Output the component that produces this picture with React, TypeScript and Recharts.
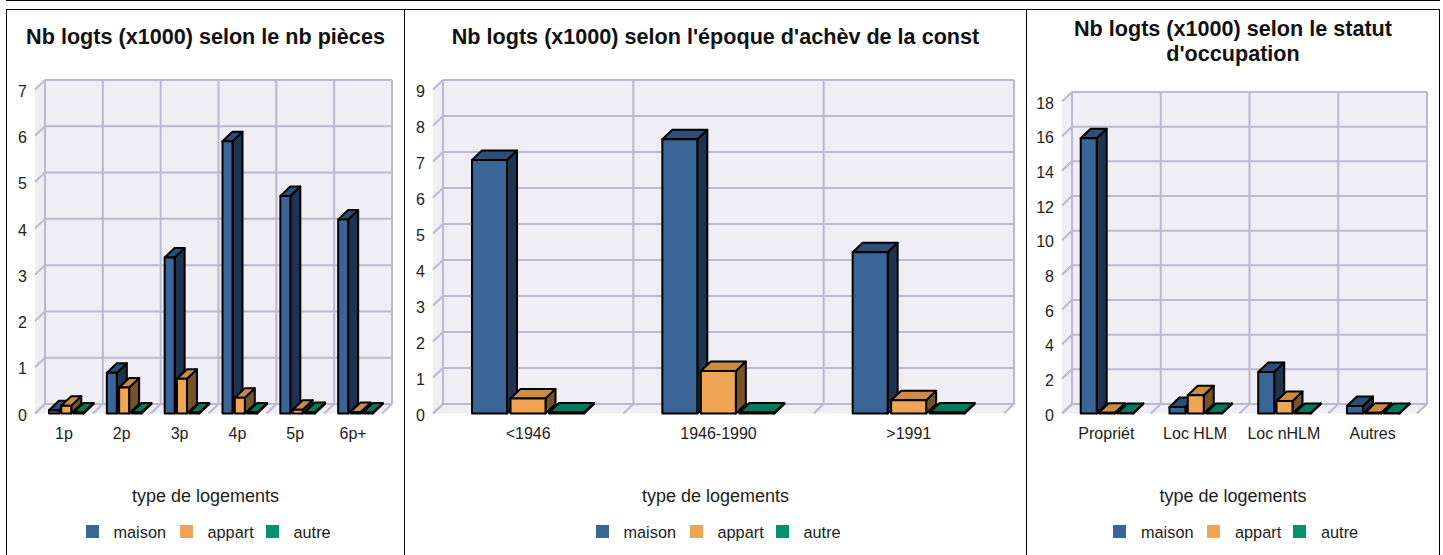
import React from 'react';
import { BarChart, Bar, XAxis, YAxis, CartesianGrid, Legend } from 'recharts';

const roomCategories = ['1p', '2p', '3p', '4p', '5p', '6p+'];
const roomMaison = [0.07, 0.88, 3.37, 5.88, 4.7, 4.19];
const roomAppart = [0.17, 0.56, 0.75, 0.34, 0.08, 0.03];
const roomAutre = [0.02, 0.02, 0.02, 0.02, 0.03, 0.02];
const roomTicks = [0, 1, 2, 3, 4, 5, 6, 7];

const eraCategories = ['<1946', '1946-1990', '>1991'];
const eraMaison = [7.04, 7.62, 4.48];
const eraAppart = [0.42, 1.18, 0.37];
const eraAutre = [0.03, 0.03, 0.03];
const eraTicks = [0, 1, 2, 3, 4, 5, 6, 7, 8, 9];

const statusCategories = ['Propriét', 'Loc HLM', 'Loc nHLM', 'Autres'];
const statusMaison = [15.88, 0.38, 2.39, 0.43];
const statusAppart = [0.05, 1.05, 0.72, 0.05];
const statusAutre = [0.03, 0.03, 0.03, 0.03];
const statusTicks = [0, 2, 4, 6, 8, 10, 12, 14, 16, 18];

const DX = 10;
const DY = 9.5;
const GRID = '#BAB8D3';
const WALL = '#EFEEF4';
const FONT = '"Liberation Sans", Arial, sans-serif';

const maisonFaces = { front: '#3A6597', top: '#2C4E77', side: '#1E3350' };
const appartFaces = { front: '#F0A555', top: '#CC8B45', side: '#76522A' };
const autreFaces = { front: '#00936F', top: '#007A5B', side: '#004A37' };

function box(faces: { front: string; top: string; side: string }, shift: number) {
  return (p: any) => {
    const { y, width, height } = p;
    const x = p.x + shift;
    const r = x + width;
    const b = y + height;
    const common = { stroke: '#000', strokeWidth: 2, strokeLinejoin: 'round' as const };
    return (
      <g>
        <polygon points={`${r},${b} ${r + DX},${b - DY} ${r + DX},${y - DY} ${r},${y}`} fill={faces.side} {...common} />
        <polygon points={`${x},${y} ${x + DX},${y - DY} ${r + DX},${y - DY} ${r},${y}`} fill={faces.top} {...common} />
        <rect x={x} y={y} width={width} height={height} fill={faces.front} {...common} />
      </g>
    );
  };
}

function gridH(p: any) {
  const { x1, x2, y1, index, x, y, width, height } = p;
  const b = y + height;
  const r = x + width;
  return (
    <g key={p.key ?? `h${y1}`}>
      {index === 0 && (
        <polygon
          points={`${x},${b} ${x},${y} ${x + DX},${y - DY} ${r + DX},${y - DY} ${r + DX},${b - DY} ${r},${b}`}
          fill={WALL}
        />
      )}
      <line x1={x1} y1={y1} x2={x1 + DX} y2={y1 - DY} stroke={GRID} strokeWidth={2} />
      <line x1={x1 + DX} y1={y1 - DY} x2={x2 + DX} y2={y1 - DY} stroke={GRID} strokeWidth={2} />
    </g>
  );
}

function gridV(p: any) {
  const { x1, y1, y2 } = p;
  return (
    <g key={p.key ?? `v${x1}`}>
      <line x1={x1} y1={y2} x2={x1 + DX} y2={y2 - DY} stroke={GRID} strokeWidth={2} />
      <line x1={x1 + DX} y1={y1 - DY} x2={x1 + DX} y2={y2 - DY} stroke={GRID} strokeWidth={2} />
    </g>
  );
}

function LegendBox(props: any) {
  const widths = [94, 86, 72];
  return (
    <div style={{ fontFamily: FONT, color: '#1c1c1c', width: props.w, position: 'relative', height: 60 }}>
      <div style={{ textAlign: 'center', fontSize: 18, lineHeight: '20px', position: 'absolute', left: 0, right: 0, top: 0 }}>
        type de logements
      </div>
      <div style={{ position: 'absolute', top: 35, left: props.w / 2 - 120, display: 'flex' }}>
        {(props.payload || []).map((e: any, i: number) => (
          <div key={e.value} style={{ width: widths[i], display: 'flex', alignItems: 'center', height: 20, flex: 'none' }}>
            <span style={{ width: 13, height: 13, background: e.color, display: 'inline-block', marginRight: 15, flex: 'none' }} />
            <span style={{ fontSize: 16.3, whiteSpace: 'nowrap', position: 'relative', top: 1 }}>{e.value}</span>
          </div>
        ))}
      </div>
    </div>
  );
}

type PanelProps = {
  left: number; width: number; plotLeft: number; plotRight: number; plotTop: number;
  barSize: number; barGap: number; shift: number; title: string[]; titleTop: number;
  cats: string[]; maison: number[]; appart: number[]; autre: number[]; ticks: number[];
};

function Panel(c: PanelProps) {
  const data = c.cats.map((name, i) => ({ name, maison: c.maison[i], appart: c.appart[i], autre: c.autre[i] }));
  const H = 555;
  const plotBottom = 413.5;
  const max = c.ticks[c.ticks.length - 1];
  return (
    <div style={{ position: 'absolute', left: c.left, top: 0, width: c.width, height: H }}>
      <div style={{ position: 'absolute', left: 0, width: c.width, top: c.titleTop, textAlign: 'center', fontFamily: FONT, fontWeight: 700, fontSize: 21.6, lineHeight: '25px', color: '#111', whiteSpace: 'nowrap' }}>
        {c.title.map((t) => <div key={t}>{t}</div>)}
      </div>
      <BarChart
        width={c.width}
        height={H}
        data={data}
        barSize={c.barSize}
        barGap={c.barGap}
        margin={{ left: 0, right: c.width - c.plotRight, top: c.plotTop, bottom: 0 }}
        style={{ position: 'absolute', left: 0, top: 0 }}
      >
        <CartesianGrid
          horizontal={gridH}
          vertical={gridV}
          verticalCoordinatesGenerator={({ offset }: any) =>
            Array.from({ length: c.cats.length + 1 }, (_, i) => offset.left + (i * offset.width) / c.cats.length)
          }
        />
        <XAxis
          dataKey="name"
          height={H - plotBottom}
          axisLine={false}
          tickLine={false}
          tickSize={0}
          tickMargin={14}
          interval={0}
          tick={{ fontSize: 16, fontFamily: FONT, fill: '#222' }}
        />
        <YAxis
          width={c.plotLeft}
          domain={[0, max]}
          ticks={c.ticks}
          interval={0}
          axisLine={false}
          tickLine={false}
          tickSize={0}
          tickMargin={8}
          tick={{ fontSize: 16, fontFamily: FONT, fill: '#222', dy: 1.5 }}
        />
        <Bar dataKey="maison" name="maison" fill={maisonFaces.front} shape={box(maisonFaces, c.shift)} isAnimationActive={false} />
        <Bar dataKey="appart" name="appart" fill={appartFaces.front} shape={box(appartFaces, c.shift)} isAnimationActive={false} />
        <Bar dataKey="autre" name="autre" fill={autreFaces.front} shape={box(autreFaces, c.shift)} isAnimationActive={false} />
        <Legend
          layout="horizontal"
          verticalAlign="middle"
          itemSorter={null as any}
          wrapperStyle={{ position: 'absolute', left: 0, top: 486, width: c.width, height: 60 }}
          content={(p: any) => <LegendBox {...p} w={c.width} />}
        />
      </BarChart>
    </div>
  );
}

const lineStyle: React.CSSProperties = { position: 'absolute', background: '#000' };

export default function App() {
  return (
    <div style={{ position: 'absolute', left: 0, top: 0, width: 1443, height: 555, overflow: 'hidden', background: '#fff' }}>
      <Panel left={7} width={397} plotLeft={28} plotRight={375} plotTop={89.5} barSize={10} barGap={2.3} shift={2}
        title={['Nb logts (x1000) selon le nb pièces']} titleTop={24}
        cats={roomCategories} maison={roomMaison} appart={roomAppart} autre={roomAutre} ticks={roomTicks} />
      <Panel left={405} width={621} plotLeft={28} plotRight={599} plotTop={89.5} barSize={35} barGap={3.5} shift={0}
        title={["Nb logts (x1000) selon l'époque d'achèv de la const"]} titleTop={24}
        cats={eraCategories} maison={eraMaison} appart={eraAppart} autre={eraAutre} ticks={eraTicks} />
      <Panel left={1027} width={412} plotLeft={35} plotRight={390} plotTop={101.5} barSize={16} barGap={2.3} shift={0.7}
        title={['Nb logts (x1000) selon le statut', "d'occupation"]} titleTop={16}
        cats={statusCategories} maison={statusMaison} appart={statusAppart} autre={statusAutre} ticks={statusTicks} />
      <div style={{ ...lineStyle, left: 6, top: 0, width: 1434, height: 1 }} />
      <div style={{ ...lineStyle, left: 6, top: 9, width: 1434, height: 1 }} />
      <div style={{ ...lineStyle, left: 6, top: 9, width: 1, height: 546 }} />
      <div style={{ ...lineStyle, left: 404, top: 9, width: 1, height: 546 }} />
      <div style={{ ...lineStyle, left: 1026, top: 9, width: 1, height: 546 }} />
      <div style={{ ...lineStyle, left: 1439, top: 9, width: 1, height: 546 }} />
    </div>
  );
}
